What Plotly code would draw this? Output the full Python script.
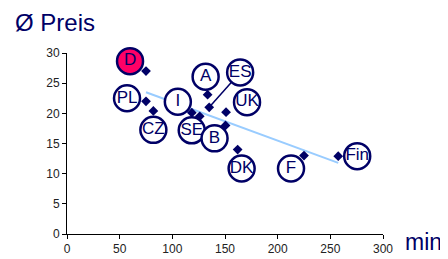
import numpy as np
import plotly.graph_objects as go

countries = ["D", "PL", "CZ", "I", "SE", "A", "ES", "UK", "B", "DK", "F", "Fin"]
minutes = [75, 75, 82, 118.5, 126, 133.5, 135, 151, 150.5, 162, 225, 257.5]
price = [27.0, 22.0, 20.4, 20.1, 19.5, 23.1, 21.0, 20.2, 18.0, 14.0, 13.0, 12.9]
x_ticks = [0, 50, 100, 150, 200, 250, 300]
y_ticks = [0, 5, 10, 15, 20, 25, 30]

# label offsets in pixels (dx right, dy down) from the data point
off_px = {"D": (-16, -10), "PL": (-19, -3), "CZ": (0, 19), "I": (-14, -11),
          "SE": (-8, 14), "A": (-2, -18), "ES": (31, -35), "UK": (21, -10),
          "B": (-11, 13), "DK": (4, 19), "F": (-13, 13), "Fin": (19, 0)}

# page body has an 8px margin -> figure drawn at offset (8, 8)
W, H = 440, 251
ml, mr, mt, mb = 58.5, 65, 44.7, 24.7
pw, ph = W - ml - mr, H - mt - mb
xr, yr = (0, 300), (0, 30)
sx = pw / (xr[1] - xr[0])
sy = ph / (yr[1] - yr[0])

lab_x = [x + off_px[c][0] / sx for c, x in zip(countries, minutes)]
lab_y = [y - off_px[c][1] / sy for c, y in zip(countries, price)]

NAVY = "#000066"
FONT = "Liberation Sans, Arial, sans-serif"

fig = go.Figure()

# trend line
k, b = np.polyfit(minutes, price, 1)
tx = [min(minutes), max(minutes)]
fig.add_trace(go.Scatter(x=tx, y=[k * v + b for v in tx], mode="lines",
                         line=dict(color="#99ccff", width=2), hoverinfo="skip"))

# ES connector
i_es = countries.index("ES")
fig.add_trace(go.Scatter(x=[minutes[i_es], lab_x[i_es]], y=[price[i_es], lab_y[i_es]],
                         mode="lines", line=dict(color=NAVY, width=1.5), hoverinfo="skip"))

# data points
fig.add_trace(go.Scatter(x=minutes, y=price, mode="markers",
                         marker=dict(symbol="diamond", size=7.5, color=NAVY)))

# labels
fills = ["#ff0066" if c == "D" else "white" for c in countries]
fig.add_trace(go.Scatter(x=lab_x, y=lab_y, mode="markers+text", text=countries,
                         textposition="middle center",
                         textfont=dict(family=FONT, size=17, color=NAVY),
                         marker=dict(symbol="circle", size=26, color=fills,
                                     line=dict(color=NAVY, width=2.5)),
                         cliponaxis=False))

axis_common = dict(showgrid=False, zeroline=False, showline=True, linecolor="black",
                   linewidth=1, ticks="outside", ticklen=4, tickcolor="black",
                   automargin=False,
                   tickfont=dict(family=FONT, size=12, color="#222222"))
fig.update_xaxes(range=list(xr), tickvals=x_ticks, **axis_common)
fig.update_yaxes(range=list(yr), tickvals=y_ticks, **axis_common)

fig.update_layout(
    width=W, height=H, showlegend=False,
    margin=dict(l=ml, r=mr, t=mt, b=mb, pad=0),
    paper_bgcolor="white", plot_bgcolor="white",
    annotations=[
        dict(text="Ø Preis", xref="paper", yref="paper", x=0, y=1,
             xanchor="left", yanchor="middle", xshift=-54, yshift=31, showarrow=False,
             font=dict(family=FONT, size=24, color=NAVY)),
        dict(text="min", xref="paper", yref="paper", x=1, y=0,
             xanchor="left", yanchor="middle", xshift=20, yshift=-8, showarrow=False,
             font=dict(family=FONT, size=23, color=NAVY)),
    ],
)

fig.write_html("out.html")
